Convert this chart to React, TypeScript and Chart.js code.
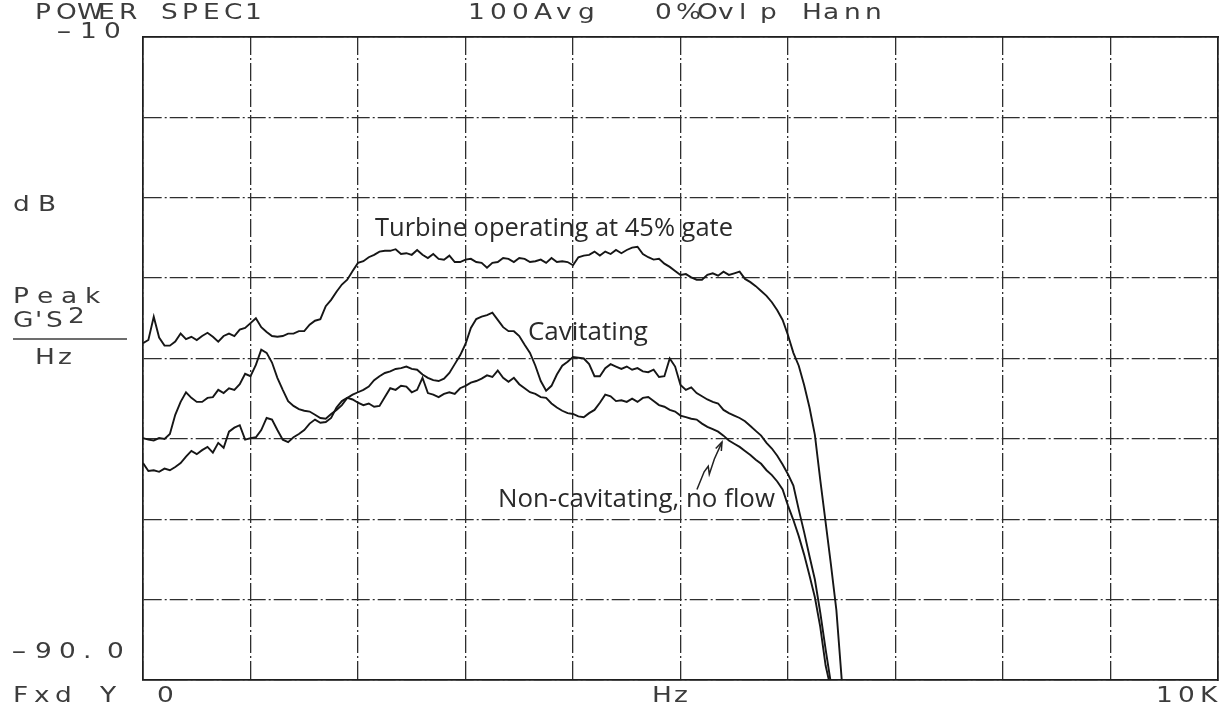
import React, { useEffect, useRef } from "react";
import { Chart, registerables } from "chart.js";

Chart.register(...registerables);

// ---- data (dB vs frequency, one sample every 50 Hz starting at 0 Hz) ----
const FREQ_STEP_HZ = 50;

const TURBINE_DB = [
  -48.1, -47.7, -44.8, -47.4, -48.4, -48.4, -47.9, -46.9, -47.6, -47.3,
  -47.7, -47.2, -46.8, -47.3, -47.9, -47.2, -46.9, -47.2, -46.4, -46.2,
  -45.6, -45.0, -46.1, -46.7, -47.2, -47.3, -47.2, -46.9, -46.9, -46.6,
  -46.6, -45.8, -45.3, -45.1, -43.5, -42.7, -41.7, -40.8, -40.2, -39.1,
  -38.1, -37.9, -37.4, -37.1, -36.7, -36.6, -36.6, -36.4, -37.0, -36.9,
  -37.1, -36.5, -37.1, -37.5, -37.0, -37.6, -37.7, -37.2, -38.0, -38.0,
  -37.7, -37.6, -38.0, -38.1, -38.7, -38.1, -38.0, -37.5, -37.6, -38.0,
  -37.5, -37.6, -38.0, -37.9, -37.7, -38.1, -37.5, -38.0, -37.9, -38.0,
  -38.4, -37.4, -37.2, -37.1, -36.7, -37.2, -36.7, -37.0, -36.5, -36.9,
  -36.5, -36.2, -36.1, -37.0, -37.4, -37.7, -37.6, -38.2, -38.6, -39.1,
  -39.6, -39.5, -39.9, -40.2, -40.2, -39.6, -39.4, -39.7, -39.2, -39.6,
  -39.4, -39.2, -40.1, -40.5, -41.0, -41.6, -42.2, -43.0, -44.0, -45.2,
  -47.1, -49.3, -50.9, -53.3, -56.1, -59.5, -65.1, -70.4, -75.7, -81.3,
  -90.0,
];

const CAVITATING_DB = [
  -59.9, -60.1, -60.2, -59.9, -60.0, -59.4, -57.0, -55.4, -54.2, -54.9,
  -55.4, -55.4, -54.9, -54.8, -53.9, -54.3, -53.7, -53.9, -53.2, -51.9,
  -52.2, -50.8, -48.9, -49.3, -50.5, -52.4, -53.9, -55.3, -55.9, -56.3,
  -56.5, -56.6, -57.0, -57.4, -57.5, -56.9, -56.4, -55.8, -54.9, -54.5,
  -54.2, -53.9, -53.5, -52.7, -52.2, -51.8, -51.6, -51.3, -51.2, -51.0,
  -51.3, -51.4, -52.0, -52.4, -52.7, -52.8, -52.5, -51.8, -50.7, -49.6,
  -48.2, -46.2, -45.1, -44.8, -44.6, -44.3, -45.2, -46.1, -46.6, -46.6,
  -47.2, -48.3, -49.3, -50.9, -52.8, -54.0, -53.4, -52.0, -50.9, -50.4,
  -49.8, -49.9, -50.0, -50.7, -52.2, -52.2, -51.2, -50.7, -51.0, -51.3,
  -51.0, -51.4, -51.2, -51.6, -51.7, -51.4, -52.3, -52.2, -50.0, -51.0,
  -53.3, -53.9, -53.6, -54.3, -54.7, -55.1, -55.4, -55.6, -56.4, -56.8,
  -57.1, -57.4, -57.8, -58.4, -59.0, -59.6, -60.5, -61.2, -62.1, -63.2,
  -64.4, -65.8, -68.8, -71.6, -74.6, -77.5, -81.6, -86.2, -90.5,
];

const NONCAV_DB = [
  -63.0, -64.0, -63.9, -64.1, -63.7, -63.9, -63.5, -63.0, -62.2, -61.5,
  -61.9, -61.4, -61.0, -61.7, -60.5, -61.1, -59.1, -58.6, -58.3, -60.1,
  -59.9, -59.8, -58.9, -57.4, -57.6, -58.9, -60.1, -60.4, -59.8, -59.4,
  -58.9, -58.1, -57.6, -58.0, -57.9, -57.4, -56.1, -55.3, -54.9, -55.1,
  -55.5, -55.8, -55.6, -56.0, -55.9, -54.8, -53.7, -53.9, -53.4, -53.5,
  -54.2, -53.9, -52.4, -54.3, -54.5, -54.8, -54.4, -54.2, -54.4, -53.7,
  -53.4, -53.0, -52.8, -52.5, -52.1, -52.3, -51.5, -52.4, -52.9, -52.4,
  -53.2, -53.7, -54.2, -54.4, -54.8, -54.9, -55.6, -56.1, -56.5, -56.8,
  -56.9, -57.2, -57.3, -56.8, -56.4, -55.5, -54.5, -54.7, -55.3, -55.2,
  -55.4, -55.0, -55.4, -54.9, -54.8, -55.3, -55.8, -56.0, -56.4, -56.6,
  -57.1, -57.3, -57.5, -57.6, -58.1, -58.5, -58.8, -59.1, -59.6, -60.2,
  -60.6, -61.0, -61.5, -62.0, -62.6, -63.1, -63.9, -64.5, -65.3, -66.3,
  -68.3, -70.1, -72.1, -74.4, -77.0, -79.7, -83.4, -88.2, -91.2,
];

// axis ranges / tick steps
const X_MIN_HZ = 0;
const X_MAX_HZ = 10000;
const X_STEP_HZ = 1000;
const Y_MIN_DB = -90;
const Y_MAX_DB = -10;
const Y_STEP_DB = 10;

// texts
const HEADER_LEFT = "POWER SPEC1";
const HEADER_MID = "100Avg";
const HEADER_RIGHT = "0%Ovlp Hann";
const Y_TOP_LABEL = "-10";
const Y_BOTTOM_LABEL = "-90.0";
const Y_UNIT_DB = "dB";
const Y_UNIT_PEAK = "Peak";
const Y_UNIT_SUP = "2";
const Y_UNIT_DEN = "Hz";
const X_LEFT_LABEL = ["Fxd", "Y", "0"];
const X_MID_LABEL = "Hz";
const X_RIGHT_LABEL = "10K";

// annotation anchors in data units [Hz, dB]
const NOTE_TURBINE = { text: "Turbine operating at 45% gate", hz: 2158, db: -34.75, widthHz: 3330 };
const NOTE_CAV = { text: "Cavitating", hz: 3581, db: -47.7, widthHz: 1116 };
const NOTE_NONCAV = { text: "Non-cavitating, no flow", hz: 3302, db: -68.5, widthHz: 2577 };
const LEADER_HZ = [5153, 5220, 5258, 5268, 5315, 5386];
const LEADER_DB = [-66.3, -64.1, -63.4, -64.4, -62.5, -60.4];

const CURVE_COLOR = "#161616";
const GRID_COLOR = "#2e2e2e";
const FRAME_COLOR = "#1e1e1e";
const TEXT_COLOR = "#3c3c3c";

const toPoints = (arr: number[]) =>
  arr.map((v, i) => ({ x: i * FREQ_STEP_HZ, y: v }));

const overlayPlugin = {
  id: "overlayText",
  afterDraw(chart: any) {
    const { ctx, scales } = chart;
    const xs = scales.x;
    const ys = scales.y;
    ctx.save();
    ctx.fillStyle = TEXT_COLOR;
    ctx.strokeStyle = TEXT_COLOR;
    ctx.textBaseline = "middle";
    ctx.textAlign = "left";
    ctx.font = "22px 'DejaVu Sans'";
    const SX = 1.2;

    const glyph = (ch: string, x: number, y: number) => {
      ctx.save();
      ctx.translate(x, y);
      ctx.scale(ch === "-" ? 2.0 : SX, 1);
      ctx.fillText(ch, 0, 0);
      ctx.restore();
    };
    const mono = (s: string, x: number, y: number, pitch: number) => {
      for (let i = 0; i < s.length; i++) glyph(s[i], x + i * pitch, y);
    };

    // header
    mono(HEADER_LEFT, 35, 13, 21);
    mono(HEADER_MID, 468, 13, 22);
    mono(HEADER_RIGHT, 655, 13, 21);

    // y-axis texts
    mono(Y_TOP_LABEL, 56, 32, 24);
    mono(Y_UNIT_DB, 13, 205, 25);
    mono(Y_UNIT_PEAK, 13, 297, 24);
    glyph("G", 13, 321);
    glyph("'", 35, 321);
    glyph("S", 46, 321);
    glyph(Y_UNIT_SUP, 68, 317);
    ctx.lineWidth = 1.6;
    ctx.beginPath();
    ctx.moveTo(13, 339);
    ctx.lineTo(127, 339);
    ctx.stroke();
    mono(Y_UNIT_DEN, 35, 358, 23);
    mono(Y_BOTTOM_LABEL, 11, 652, 24);

    // x-axis texts
    mono(X_LEFT_LABEL[0], 13, 696, 21);
    glyph(X_LEFT_LABEL[1], 100, 696);
    glyph(X_LEFT_LABEL[2], 157, 696);
    mono(X_MID_LABEL, 652, 696, 22);
    mono(X_RIGHT_LABEL, 1156, 696, 22);

    // annotations (humanist sans)
    ctx.fillStyle = "#2a2a2a";
    ctx.textBaseline = "alphabetic";
    const fam = "'Open Sans', 'Noto Sans', sans-serif";
    const note = (n: any) => {
      const x0 = xs.getPixelForValue(n.hz);
      const x1 = xs.getPixelForValue(n.hz + n.widthHz);
      ctx.font = `100px ${fam}`;
      const w = ctx.measureText(n.text).width;
      const size = (100 * (x1 - x0)) / w;
      ctx.font = `${size.toFixed(2)}px ${fam}`;
      ctx.fillText(n.text, x0, ys.getPixelForValue(n.db));
    };
    note(NOTE_TURBINE);
    note(NOTE_CAV);
    note(NOTE_NONCAV);

    // leader arrow
    ctx.strokeStyle = "#222";
    ctx.lineWidth = 1.5;
    ctx.beginPath();
    LEADER_HZ.forEach((hz, i) => {
      const px = xs.getPixelForValue(hz);
      const py = ys.getPixelForValue(LEADER_DB[i]);
      if (i === 0) ctx.moveTo(px, py);
      else ctx.lineTo(px, py);
    });
    ctx.stroke();
    const n = LEADER_HZ.length;
    const tx = xs.getPixelForValue(LEADER_HZ[n - 1]);
    const ty = ys.getPixelForValue(LEADER_DB[n - 1]);
    const bx = xs.getPixelForValue(LEADER_HZ[n - 2]);
    const by = ys.getPixelForValue(LEADER_DB[n - 2]);
    const ang = Math.atan2(ty - by, tx - bx);
    const L = 9;
    ctx.beginPath();
    ctx.moveTo(tx - L * Math.cos(ang - 0.35), ty - L * Math.sin(ang - 0.35));
    ctx.lineTo(tx, ty);
    ctx.lineTo(tx - L * Math.cos(ang + 0.35), ty - L * Math.sin(ang + 0.35));
    ctx.stroke();

    ctx.restore();
  },
};

export default function App() {
  const canvasRef = useRef<HTMLCanvasElement | null>(null);

  useEffect(() => {
    if (!canvasRef.current) return;
    const lineDs = (label: string, values: number[]) => ({
      label,
      data: toPoints(values),
      borderColor: CURVE_COLOR,
      borderWidth: 1.9,
      pointRadius: 0,
      tension: 0,
      fill: false,
    });
    const gridCommon = {
      color: GRID_COLOR,
      lineWidth: 1.3,
      drawTicks: false,
    };
    const borderCommon = {
      display: true,
      color: FRAME_COLOR,
      width: 1.7,
      dash: [18, 3, 2, 3],
    };
    const chart = new Chart(canvasRef.current, {
      type: "line",
      data: {
        datasets: [
          lineDs(NOTE_TURBINE.text, TURBINE_DB),
          lineDs(NOTE_CAV.text, CAVITATING_DB),
          lineDs(NOTE_NONCAV.text, NONCAV_DB),
        ],
      },
      options: {
        animation: false,
        responsive: false,
        maintainAspectRatio: false,
        layout: { padding: { left: 143, top: 37, right: 8, bottom: 31 } },
        plugins: {
          legend: { display: false },
          tooltip: { enabled: false },
        },
        scales: {
          x: {
            type: "linear",
            min: X_MIN_HZ,
            max: X_MAX_HZ,
            ticks: { stepSize: X_STEP_HZ, display: false },
            grid: gridCommon,
            border: borderCommon,
          },
          y: {
            type: "linear",
            min: Y_MIN_DB,
            max: Y_MAX_DB,
            ticks: { stepSize: Y_STEP_DB, display: false },
            grid: gridCommon,
            border: borderCommon,
          },
          xTop: {
            type: "linear",
            position: "top",
            min: 0,
            max: 1,
            ticks: { display: false },
            grid: { display: false, drawTicks: false },
            border: { display: true, color: FRAME_COLOR, width: 1.7 },
          },
          yRight: {
            type: "linear",
            position: "right",
            min: 0,
            max: 1,
            ticks: { display: false },
            grid: { display: false, drawTicks: false },
            border: { display: true, color: FRAME_COLOR, width: 1.7 },
          },
        },
      } as any,
      plugins: [overlayPlugin],
    });
    return () => chart.destroy();
  }, []);

  return (
    <div style={{ position: "absolute", left: 0, top: 0, width: 1226, height: 711, background: "#fff" }}>
      <canvas ref={canvasRef} width={1226} height={711} style={{ display: "block" }} />
    </div>
  );
}
